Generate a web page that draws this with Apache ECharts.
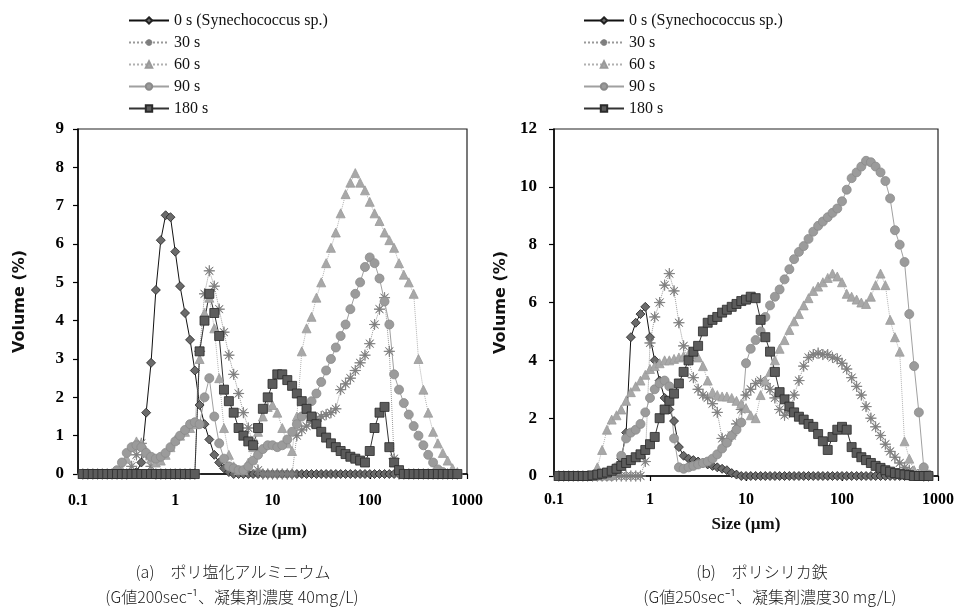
<!DOCTYPE html>
<html>
<head>
<meta charset="UTF-8">
<title>粒径分布</title>
<script src="https://cdn.jsdelivr.net/npm/echarts@6.0.0/dist/echarts.min.js"></script>
<style>
html, body { margin: 0; padding: 0; background: #fff; }
#chart { width: 965px; height: 609px; }
</style>
</head>
<body>
<div id="chart"></div>
<script>
// particle size bins (µm)
var sizes = [0.112,0.126,0.142,0.159,0.178,0.200,0.224,0.252,0.283,0.317,
	0.356,0.399,0.448,0.502,0.564,0.632,0.710,0.796,0.893,1.00,
	1.12,1.26,1.42,1.59,1.78,2.00,2.24,2.52,2.83,3.17,
	3.56,3.99,4.48,5.02,5.64,6.32,7.10,7.96,8.93,10.0,
	11.2,12.6,14.2,15.9,17.8,20.0,22.4,25.2,28.3,31.7,
	35.6,39.9,44.8,50.2,56.4,63.2,71.0,79.6,89.3,100,
	112,126,142,159,178,200,224,252,283,317,
	356,399,448,502,564,632,710,796];

var names = ['0 s (Synechococcus sp.)', '30 s', '60 s', '90 s', '180 s'];
var xTicks = ['0.1', '1', '10', '100', '1000'];

// (a) ポリ塩化アルミニウム
var a0 = [0,0,0,0,0,0,0,0,0,0,
	0,0.05,0.3,1.6,2.9,4.8,6.1,6.75,6.7,5.8,
	4.9,4.2,3.5,2.7,1.8,1.3,0.9,0.5,0.3,0.15,
	0.05,0,0,0,0,0,0,0,0,0,
	0,0,0,0,0,0,0,0,0,0,
	0,0,0,0,0,0,0,0,0,0,
	0,0,0,0,0,0,0,0,0,0,
	0,0,0,0,0,0,0,0];
var a30 = [0,0,0,0,0,0,0,0,0,0,
	0.2,0.5,0.8,0.5,0.2,0,0,0,0,0,
	0,0,0,0,3.2,4.7,5.3,4.9,4.3,3.7,
	3.1,2.6,2.1,1.6,1.2,0.8,0.1,0,0,0,
	0,0,0,0,1.0,1.15,1.25,1.35,1.45,1.5,
	1.55,1.6,1.7,2.2,2.35,2.5,2.7,2.9,3.1,3.4,
	3.9,4.3,4.6,3.2,0.4,0,0,0,0,0,
	0,0,0,0,0,0,0,0];
var a60 = [0,0,0,0,0,0,0,0,0.1,0.4,
	0.7,0.85,0.8,0.6,0.4,0.3,0.35,0.5,0.7,0.9,
	1.0,1.1,1.2,1.3,3.0,4.2,4.6,3.8,2.5,1.2,
	0.5,0.2,0.1,0.1,0.3,0.7,1.1,1.5,1.75,1.8,
	1.6,1.2,0.8,0.6,1.5,3.2,3.8,4.1,4.6,5.0,
	5.5,5.9,6.3,6.8,7.3,7.6,7.85,7.6,7.4,7.1,
	6.8,6.6,6.3,6.1,5.9,5.5,5.2,5.0,4.7,3.0,
	2.2,1.6,1.1,0.8,0.55,0.35,0.15,0.05];
var a90 = [0,0,0,0,0,0,0,0.1,0.3,0.55,
	0.7,0.75,0.7,0.55,0.45,0.4,0.45,0.55,0.7,0.85,
	1.0,1.15,1.3,1.35,1.3,2.0,2.5,1.5,0.8,0.4,
	0.2,0.15,0.1,0.1,0.2,0.35,0.5,0.65,0.75,0.75,
	0.7,0.75,0.9,1.1,1.3,1.5,1.7,1.9,2.1,2.4,
	2.7,3.0,3.3,3.6,3.9,4.3,4.7,5.0,5.4,5.65,
	5.5,5.1,4.5,3.9,2.6,2.2,1.85,1.55,1.25,1.0,
	0.75,0.5,0.3,0.12,0.05,0,0,0];
var a180 = [0,0,0,0,0,0,0,0,0,0,
	0,0,0,0,0,0,0,0,0,0,
	0,0,0,0,3.2,4.0,4.7,4.2,3.6,2.2,
	1.9,1.6,1.2,1.0,0.85,0.75,1.2,1.7,2.0,2.35,
	2.6,2.6,2.45,2.3,2.1,1.9,1.7,1.5,1.3,1.1,
	0.95,0.8,0.7,0.6,0.52,0.45,0.4,0.35,0.3,0.6,
	1.2,1.6,1.75,0.7,0.3,0.1,0,0,0,0,
	0,0,0,0,0,0,0,0];

// (b) ポリシリカ鉄
var b0 = [0,0,0,0,0,0,0,0,0,0,
	0,0.05,0.2,0.6,1.5,4.8,5.3,5.6,5.85,4.8,
	4.0,3.3,2.7,2.3,1.9,1.0,0.7,0.6,0.55,0.5,
	0.45,0.4,0.35,0.3,0.25,0.2,0.1,0.05,0,0,
	0,0,0,0,0,0,0,0,0,0,
	0,0,0,0,0,0,0,0,0,0,
	0,0,0,0,0,0,0,0,0,0,
	0,0,0,0,0,0,0,0];
var b30 = [0,0,0,0,0,0,0,0,0,0,
	0,0,0,0,0,0,0,0,0.5,4.6,
	5.5,6.0,6.6,7.0,6.4,5.3,4.5,4.0,3.4,3.0,
	2.8,2.7,2.5,2.2,1.3,1.2,1.4,1.8,2.3,2.8,
	3.0,3.2,3.3,3.2,3.0,2.7,2.3,2.1,2.2,2.8,
	3.3,3.8,4.1,4.2,4.25,4.2,4.2,4.1,4.05,3.9,
	3.7,3.4,3.1,2.8,2.4,2.0,1.7,1.4,1.1,0.85,
	0.65,0.45,0.3,0.2,0.1,0.05,0,0];
var b60 = [0,0,0,0,0,0,0,0,0.3,0.9,
	1.6,1.95,2.1,2.3,2.6,2.9,3.1,3.3,3.5,3.7,
	3.8,3.9,4.0,4.0,4.05,4.1,4.15,4.2,4.2,4.1,
	3.8,3.3,2.9,2.8,2.75,2.75,2.7,2.6,2.5,2.35,
	2.1,2.0,2.8,3.3,3.6,4.0,4.4,4.7,5.05,5.35,
	5.6,5.9,6.15,6.4,6.55,6.7,6.85,7.0,6.9,6.7,
	6.3,6.2,6.1,6.0,5.95,6.2,6.6,7.0,6.6,5.4,
	4.8,4.3,1.2,0.6,0.2,0.05,0,0];
var b90 = [0,0,0,0,0,0,0,0,0,0,
	0,0,0.3,0.7,1.3,1.5,1.6,1.8,2.2,2.7,
	3.0,3.2,3.3,3.1,1.3,0.3,0.25,0.3,0.35,0.4,
	0.45,0.5,0.6,0.75,0.95,1.15,1.4,1.6,1.85,3.9,
	4.4,4.7,5.0,5.5,5.9,6.2,6.45,6.8,7.15,7.5,
	7.75,7.95,8.2,8.45,8.65,8.8,8.95,9.1,9.25,9.5,
	9.9,10.3,10.5,10.7,10.9,10.85,10.7,10.5,10.2,9.6,
	8.5,8.0,7.4,5.6,3.8,2.2,0.3,0.05];
var b180 = [0,0,0,0,0,0,0,0.02,0.05,0.08,
	0.12,0.18,0.25,0.35,0.45,0.55,0.65,0.75,0.9,1.1,
	1.35,2.0,2.3,2.6,2.85,3.2,3.6,4.0,4.3,4.5,
	5.0,5.3,5.4,5.5,5.65,5.75,5.85,5.95,6.05,6.1,
	6.2,6.15,5.4,4.8,4.3,3.6,2.9,2.65,2.4,2.2,
	2.05,1.95,1.8,1.7,1.45,1.2,0.9,1.35,1.6,1.7,
	1.6,1.0,0.8,0.65,0.55,0.45,0.35,0.28,0.2,0.15,
	0.1,0.08,0.05,0.03,0,0,0,0];

var panelA = [a0, a30, a60, a90, a180];
var panelB = [b0, b30, b60, b90, b180];

var asterisk = 'path://M10,0L10.69,8.34L17.07,2.93L11.66,9.31L20,10L11.66,10.69L17.07,17.07L10.69,11.66L10,20L9.31,11.66L2.93,17.07L8.34,10.69L0,10L8.34,9.31L2.93,2.93L9.31,8.34Z';

var looks = [
	{symbol: 'diamond', size: 9, fill: '#6b6b6b', edge: '#222', line: '#111', type: 'solid'},
	{symbol: asterisk, size: 11, fill: '#7e7e7e', edge: '#7e7e7e', line: '#999', type: 'dotted'},
	{symbol: 'triangle', size: 9, fill: '#a8a8a8', edge: '#9a9a9a', line: '#b0b0b0', type: 'dotted'},
	{symbol: 'circle', size: 9, fill: '#9b9b9b', edge: '#8a8a8a', line: '#a0a0a0', type: 'solid'},
	{symbol: 'rect', size: 9, fill: '#5c5c5c', edge: '#2a2a2a', line: '#333', type: 'solid'}
];

function pairs(vals) {
	return sizes.map(function (s, i) { return [s, vals[i]]; });
}

function makeSeries(panel, idx) {
	return panel.map(function (vals, i) {
		var lk = looks[i];
		return {
			name: names[i],
			type: 'line',
			xAxisIndex: idx,
			yAxisIndex: idx,
			data: pairs(vals),
			symbol: lk.symbol,
			symbolSize: lk.size,
			showAllSymbol: true,
			itemStyle: {color: lk.fill, borderColor: lk.edge, borderWidth: 0.8},
			lineStyle: {color: lk.line, width: 1, type: lk.type},
			emphasis: {disabled: true}
		};
	});
}

var serif = 'Liberation Serif';

function xAxis(idx, gap, margin) {
	return {
		type: 'log', logBase: 10, gridIndex: idx, min: 0.1, max: 1000,
		name: 'Size (µm)', nameLocation: 'middle', nameGap: gap,
		nameTextStyle: {fontFamily: serif, fontWeight: 'bold', fontSize: 17, color: '#111'},
		axisLine: {lineStyle: {color: '#000', width: 1.5}},
		axisTick: {length: 5, lineStyle: {color: '#000', width: 1.2}},
		minorTick: {show: false},
		splitLine: {show: false},
		axisLabel: {
			fontFamily: serif, fontWeight: 'bold', fontSize: 16, color: '#000', margin: margin,
			formatter: function (v) {
				var e = Math.round(Math.log10(v)) + 1;
				return xTicks[e];
			}
		}
	};
}

function yAxis(idx, max, step, gap, margin) {
	return {
		type: 'value', gridIndex: idx, min: 0, max: max, interval: step,
		name: 'Volume (%)', nameLocation: 'middle', nameGap: gap,
		nameTextStyle: {fontFamily: 'DejaVu Sans', fontWeight: 'bold', fontSize: 16, color: '#111'},
		axisLine: {show: true, lineStyle: {color: '#000', width: 1.5}},
		axisTick: {show: true, length: 5, lineStyle: {color: '#000', width: 1.2}},
		splitLine: {show: false},
		axisLabel: {fontFamily: serif, fontWeight: 'bold', fontSize: 17, color: '#000', margin: margin}
	};
}

function legend(left) {
	return {
		left: left, top: 7, orient: 'vertical',
		itemWidth: 40, itemHeight: 8, itemGap: 5,
		selectedMode: false,
		textStyle: {fontFamily: serif, fontSize: 16, color: '#111', lineHeight: 17},
		data: names
	};
}

function caption(x, y, text) {
	return {
		type: 'text', x: x, y: y,
		style: {text: text, align: 'center', verticalAlign: 'middle',
			fontFamily: 'Noto Sans CJK JP', fontSize: 16, fontWeight: 300, fill: '#1a1a1a'}
	};
}

var chart = echarts.init(document.getElementById('chart'));
chart.setOption({
	animation: false,
	backgroundColor: '#fff',
	legend: [legend(123), legend(578)],
	grid: [
		{left: 78, top: 129, width: 389, height: 345, show: true, borderColor: '#222', borderWidth: 1.2},
		{left: 554, top: 129, width: 384, height: 347, show: true, borderColor: '#222', borderWidth: 1.2}
	],
	xAxis: [xAxis(0, 48, 19), xAxis(1, 40, 16)],
	yAxis: [yAxis(0, 9, 1, 50, 14), yAxis(1, 12, 2, 45, 17)],
	series: makeSeries(panelA, 0).concat(makeSeries(panelB, 1)),
	graphic: [
		caption(233, 572, '(a)　ポリ塩化アルミニウム'),
		caption(232, 597, '(G値200sec⁻¹、凝集剤濃度 40mg/L)'),
		caption(762, 572, '(b)　ポリシリカ鉄'),
		caption(770, 597, '(G値250sec⁻¹、凝集剤濃度30 mg/L)')
	]
});
</script>
</body>
</html>
